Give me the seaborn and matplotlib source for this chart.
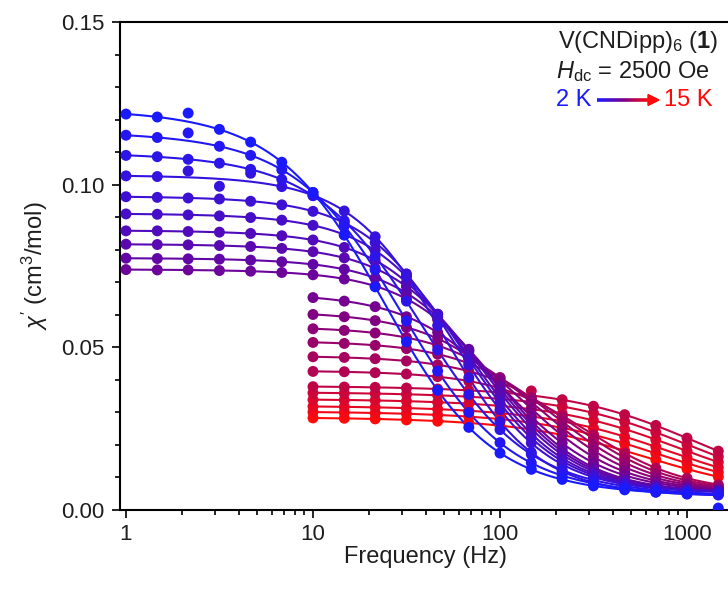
import numpy as np
import matplotlib
matplotlib.use("Agg")
import matplotlib.pyplot as plt
import matplotlib.ticker as mticker
import seaborn as sns
from matplotlib.collections import LineCollection
from matplotlib.colors import LinearSegmentedColormap
from matplotlib.patches import FancyArrow

# ac frequencies (Hz); the warmer runs start at 10 Hz
freqs = [1.0, 1.47, 2.15, 3.16, 4.64, 6.81, 10.0, 14.7, 21.5, 31.6,
         46.4, 68.1, 100.0, 147.0, 215.0, 316.0, 464.0, 681.0, 1000.0, 1470.0]
temps = [2.0, 2.5, 3.0, 3.5, 4.0, 4.5, 5.0, 5.5, 6.0, 6.5, 7.0,
         7.5, 8.0, 8.5, 9.0, 9.5, 10.0, 11.0, 12.0, 13.0, 14.0, 15.0]

chi_2p0 = [0.1217, 0.1208, 0.1220, 0.1170, 0.1131, 0.1069, 0.0976, 0.0845, 0.0686, 0.0517,
           0.0368, 0.0254, 0.0175, 0.0125, 0.0094, 0.0074, 0.0062, 0.0055, 0.0050, 0.0006]
chi_2p5 = [0.1152, 0.1145, 0.1159, 0.1118, 0.1090, 0.1046, 0.0976, 0.0873, 0.0738, 0.0581,
           0.0427, 0.0300, 0.0207, 0.0145, 0.0106, 0.0082, 0.0067, 0.0058, 0.0052, 0.0048]
chi_3p0 = [0.1090, 0.1086, 0.1078, 0.1066, 0.1047, 0.1016, 0.0966, 0.0889, 0.0780, 0.0642,
           0.0492, 0.0355, 0.0247, 0.0171, 0.0123, 0.0092, 0.0073, 0.0061, 0.0054, 0.0050]
chi_3p5 = [0.1027, 0.1025, 0.1042, 0.0995, 0.1035, 0.0994, 0.0967, 0.0919, 0.0840, 0.0720,
           0.0567, 0.0407, 0.0272, 0.0177, 0.0119, 0.0085, 0.0066, 0.0055, 0.0049, 0.0046]
chi_4p0 = [0.0963, 0.0961, 0.0959, 0.0956, 0.0949, 0.0938, 0.0918, 0.0883, 0.0822, 0.0726,
           0.0594, 0.0445, 0.0308, 0.0206, 0.0140, 0.0101, 0.0079, 0.0067, 0.0060, 0.0056]
chi_4p5 = [0.0910, 0.0909, 0.0907, 0.0904, 0.0899, 0.0891, 0.0875, 0.0846, 0.0798, 0.0717,
           0.0602, 0.0464, 0.0329, 0.0222, 0.0151, 0.0107, 0.0082, 0.0069, 0.0061, 0.0057]
chi_5p0 = [0.0858, 0.0858, 0.0856, 0.0854, 0.0850, 0.0843, 0.0830, 0.0807, 0.0767, 0.0700,
           0.0601, 0.0474, 0.0344, 0.0235, 0.0159, 0.0112, 0.0085, 0.0070, 0.0062, 0.0057]
chi_5p5 = [0.0817, 0.0816, 0.0815, 0.0813, 0.0810, 0.0804, 0.0794, 0.0775, 0.0743, 0.0687,
           0.0601, 0.0487, 0.0361, 0.0250, 0.0171, 0.0119, 0.0089, 0.0072, 0.0063, 0.0058]
chi_6p0 = [0.0774, 0.0773, 0.0772, 0.0771, 0.0768, 0.0763, 0.0755, 0.0740, 0.0713, 0.0667,
           0.0593, 0.0491, 0.0373, 0.0263, 0.0180, 0.0125, 0.0093, 0.0074, 0.0064, 0.0058]
chi_6p5 = [0.0739, 0.0738, 0.0738, 0.0736, 0.0734, 0.0730, 0.0723, 0.0710, 0.0688, 0.0649,
           0.0585, 0.0494, 0.0383, 0.0274, 0.0189, 0.0131, 0.0096, 0.0076, 0.0065, 0.0059]
chi_7p0 = [0.0653, 0.0642, 0.0625, 0.0594, 0.0546, 0.0474, 0.0383,
           0.0287, 0.0206, 0.0145, 0.0107, 0.0083, 0.0070, 0.0062]
chi_7p5 = [0.0601, 0.0594, 0.0582, 0.0561, 0.0527, 0.0473, 0.0399,
           0.0311, 0.0229, 0.0163, 0.0118, 0.0090, 0.0074, 0.0064]
chi_8p0 = [0.0557, 0.0552, 0.0544, 0.0530, 0.0505, 0.0466, 0.0407,
           0.0332, 0.0253, 0.0183, 0.0132, 0.0099, 0.0079, 0.0067]
chi_8p5 = [0.0515, 0.0512, 0.0506, 0.0496, 0.0479, 0.0450, 0.0406,
           0.0343, 0.0272, 0.0202, 0.0146, 0.0108, 0.0084, 0.0070]
chi_9p0 = [0.0471, 0.0469, 0.0465, 0.0458, 0.0446, 0.0427, 0.0394,
           0.0346, 0.0285, 0.0219, 0.0161, 0.0118, 0.0091, 0.0074]
chi_9p5 = [0.0426, 0.0425, 0.0422, 0.0418, 0.0410, 0.0396, 0.0374,
           0.0338, 0.0290, 0.0231, 0.0175, 0.0129, 0.0098, 0.0078]
chi_10 = [0.0379, 0.0378, 0.0377, 0.0375, 0.0372, 0.0368, 0.0361,
          0.0366, 0.0339, 0.0319, 0.0293, 0.0260, 0.0221, 0.0181]
chi_11 = [0.0360, 0.0359, 0.0358, 0.0356, 0.0353, 0.0348, 0.0342,
          0.0332, 0.0318, 0.0298, 0.0272, 0.0239, 0.0201, 0.0164]
chi_12 = [0.0339, 0.0338, 0.0337, 0.0335, 0.0331, 0.0327, 0.0320,
          0.0310, 0.0296, 0.0275, 0.0249, 0.0216, 0.0181, 0.0147]
chi_13 = [0.0318, 0.0317, 0.0316, 0.0313, 0.0310, 0.0305, 0.0298,
          0.0287, 0.0273, 0.0252, 0.0225, 0.0194, 0.0161, 0.0131]
chi_14 = [0.0301, 0.0300, 0.0298, 0.0296, 0.0292, 0.0287, 0.0279,
          0.0268, 0.0253, 0.0231, 0.0204, 0.0174, 0.0144, 0.0116]
chi_15 = [0.0283, 0.0282, 0.0280, 0.0277, 0.0273, 0.0268, 0.0259,
          0.0247, 0.0231, 0.0209, 0.0182, 0.0154, 0.0126, 0.0102]

measured = [chi_2p0, chi_2p5, chi_3p0, chi_3p5, chi_4p0, chi_4p5, chi_5p0, chi_5p5,
            chi_6p0, chi_6p5, chi_7p0, chi_7p5, chi_8p0, chi_8p5, chi_9p0, chi_9p5,
            chi_10, chi_11, chi_12, chi_13, chi_14, chi_15]

# generalized Debye fit parameters, one per temperature
chi_t = [0.1235, 0.1165, 0.1100, 0.1030, 0.0965, 0.0912, 0.0860, 0.0818, 0.0775, 0.0740,
         0.0668, 0.0612, 0.0565, 0.0521, 0.0475, 0.0429,
         0.0382, 0.0363, 0.0342, 0.0321, 0.0304, 0.0286]
chi_s = [0.004] * 4 + [0.005] * 12 + [0.004] * 6
peak_f = [24, 30, 38, 50, 58, 65, 72, 80, 88, 96,
          110, 135, 165, 200, 245, 300,
          1100, 1000, 900, 800, 700, 600]
alpha = [0.12] * 3 + [0.06] * 7 + [0.08] * 6 + [0.2] * 6


def debye_real(f, ct, cs, fp, a):
    x = (np.asarray(f) / fp) ** (1 - a)
    s = np.sin(np.pi * a / 2)
    return cs + (ct - cs) * (1 + x * s) / (1 + 2 * x * s + x ** 2)


sns.set_theme(style="ticks")
plt.rcParams['font.family'] = ['Liberation Sans', 'DejaVu Sans']
plt.rcParams['mathtext.fontset'] = 'custom'
plt.rcParams['mathtext.rm'] = 'Liberation Sans'
plt.rcParams['mathtext.it'] = 'Liberation Sans:italic'
plt.rcParams['mathtext.bf'] = 'Liberation Sans:bold'

cmap = LinearSegmentedColormap.from_list("br", ["#1a1aff", "#7a008a", "#ff0a0a"])
n = len(temps)
colors = [cmap(i / (n - 1)) for i in range(n)]
text_col = '#1e1e1e'

fig = plt.figure(figsize=(7.28, 5.92), dpi=100)
ax = fig.add_axes([120 / 728, 82 / 592, 612 / 728, 488 / 592])

# warm runs first so the blue ones sit on top
for i in reversed(range(n)):
    vals = measured[i]
    f = np.array(freqs[-len(vals):])
    fine = np.logspace(np.log10(f[0]), np.log10(f[-1]), 200)
    sns.lineplot(x=fine, y=debye_real(fine, chi_t[i], chi_s[i], peak_f[i], alpha[i]),
                 ax=ax, color=colors[i], lw=1.5, legend=False)
    sns.scatterplot(x=f, y=vals, ax=ax, color=colors[i], s=62, edgecolor='none',
                    legend=False, zorder=3)

ax.set_xscale('log')
ax.set_xlim(0.929, 1740)
ax.set_ylim(0, 0.15)
ax.set_yticks([0, 0.05, 0.10, 0.15])
ax.set_yticklabels(['0.00', '0.05', '0.10', '0.15'])
ax.yaxis.set_minor_locator(mticker.MultipleLocator(0.01))
ax.set_xticks([1, 10, 100, 1000])
ax.set_xticklabels(['1', '10', '100', '1000'])
ax.xaxis.set_minor_locator(mticker.LogLocator(base=10, subs=np.arange(2, 10)))
ax.xaxis.set_minor_formatter(mticker.NullFormatter())
ax.tick_params(which='major', length=6, width=1.2, pad=5, labelsize=16,
               color='black', labelcolor=text_col)
ax.tick_params(axis='x', which='major', pad=4)
ax.tick_params(which='minor', length=3.5, width=1.2, color='black')
for sp in ax.spines.values():
    sp.set_linewidth(1.5)
    sp.set_color('black')
ax.spines['right'].set_visible(False)
ax.set_xlabel('Frequency (Hz)', fontsize=17, color=text_col, labelpad=1)
ax.set_ylabel(r"$\chi'$ (cm$^3$/mol)", fontsize=17, color=text_col, labelpad=8)

# annotation block, top right
fig.text(718 / 728, 1 - 42 / 592, r"V(CNDipp)$_{\mathregular{6}}$ ($\mathbf{1}$)", ha='right',
         va='center', fontsize=17, color=text_col)
fig.text(710 / 728, 1 - 72 / 592, r"$H_{\rm dc}$ = 2500 Oe", ha='right', va='center',
         fontsize=17, color=text_col)
fig.text(556 / 728, 1 - 100 / 592, "2 K", ha='left', va='center', fontsize=17, color='#1a1aff')
fig.text(712 / 728, 1 - 100 / 592, "15 K", ha='right', va='center', fontsize=17, color='#ff0a0a')

# gradient arrow between the two temperatures
xs = np.linspace(597, 650, 40) / 728
pts = np.column_stack([xs, np.full_like(xs, 1 - 100 / 592)]).reshape(-1, 1, 2)
segs = np.concatenate([pts[:-1], pts[1:]], axis=1)
lc = LineCollection(segs, colors=[cmap(v) for v in np.linspace(0, 1, len(segs))], lw=2.6,
                    transform=fig.transFigure)
fig.add_artist(lc)
fig.add_artist(FancyArrow(648 / 728, 1 - 100 / 592, 11 / 728, 0, width=0.0001,
                          head_width=11 / 592, head_length=11 / 728, color='#ff0a0a',
                          length_includes_head=True, transform=fig.transFigure))

fig.savefig('out.png', dpi=100)
